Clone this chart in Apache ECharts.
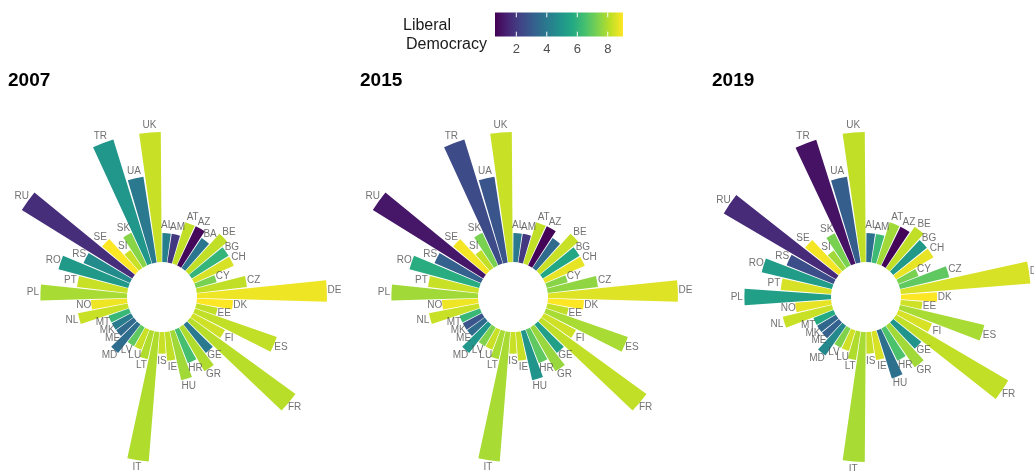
<!DOCTYPE html>
<html><head><meta charset="utf-8">
<script src="https://cdn.jsdelivr.net/npm/echarts@6/dist/echarts.min.js"></script>
<style>html,body{margin:0;padding:0;background:#fff}#c{width:1034px;height:471px}</style>
</head><body><div id="c"></div>
<script>
// ---------------- data ----------------
const countries = ['AL','AM','AT','AZ','BA','BE','BG','CH','CY','CZ','DE','DK','EE','ES','FI','FR','GE','GR','HR','HU','IE','IS','IT','LT','LU','LV','MD','ME','MK','MT','NL','NO','PL','PT','RO','RS','RU','SE','SI','SK','TR','UA','UK'];
const seats = [4,4,6,6,5,7,6,6,3,7,18,5,3,12,5,18,5,7,5,7,4,3,18,4,3,3,5,3,3,3,7,5,12,7,10,7,18,6,3,5,18,12,18];
const libdem2007 = [4.2,2.0,8.2,0.8,3.9,8.2,6.1,8.5,7.3,8.2, 8.8,9.0,8.2,8.2,8.4,8.1,4.0,8.0,6.5,7.8, 8.2,8.3,8.0,8.0,8.3,6.9,3.6,3.5,4.1,6.2, 8.3,8.8,7.9,8.3,5.1,4.6,1.7,9.0,8.3,7.5, 5.0,4.0,8.3];
const libdem2015 = [4.0,2.0,8.2,0.7,3.5,8.3,5.6,8.7,7.5,7.6, 8.6,9.0,8.2,7.9,8.4,8.2,5.3,7.7,6.9,4.9, 8.3,8.3,7.9,7.9,8.3,7.4,5.0,3.5,2.8,6.2, 8.3,8.8,7.8,8.3,5.8,3.2,1.1,8.9,8.2,7.3, 2.5,2.8,8.3];
const libdem2019 = [3.7,6.3,7.8,0.7,null,8.2,5.1,8.7,7.3,6.9, 8.5,9.0,8.4,7.9,8.5,8.2,4.9,7.8,6.6,3.7, 8.5,8.3,7.9,8.0,8.4,7.4,4.5,3.2,3.4,5.7, 8.3,8.7,5.3,8.5,5.2,2.6,1.6,8.9,7.8,7.3, 1.0,3.1,8.2];
const years = ['2007','2015','2019'];
const hiddenLabels = [[],['BA'],[]];
const colorTicks = [2,4,6,8];
const colorMin = 0.6, colorMax = 9.0;

// ---------------- helpers ----------------
const VIRIDIS = ['#440154','#482475','#414487','#355F8D','#2A788E','#21918C','#22A884','#44BF70','#7AD151','#BDDF26','#FDE725'];
function hex2rgb(h){return [parseInt(h.slice(1,3),16),parseInt(h.slice(3,5),16),parseInt(h.slice(5,7),16)];}
function vir(v){
  let t=(v-colorMin)/(colorMax-colorMin); t=Math.max(0,Math.min(1,t));
  const p=t*(VIRIDIS.length-1); const i=Math.min(Math.floor(p),VIRIDIS.length-2); const f=p-i;
  const a=hex2rgb(VIRIDIS[i]), b=hex2rgb(VIRIDIS[i+1]);
  return 'rgb('+a.map((x,k)=>Math.round(x+(b[k]-x)*f)).join(',')+')';
}
const FONT = '"Liberation Sans", Arial, Helvetica, sans-serif';
const R0 = 35, PX = 7.22, RMAX = 20;
const centers = [[162,297],[513,297],[866,297]];
const titleX = [8,360,712];
const LABEL_OFF = 1.05;

const allVals = [libdem2007, libdem2015, libdem2019];
const polar=[], angleAxis=[], radiusAxis=[], series=[], titles=[];
years.forEach((yr,pi)=>{
  const vals = allVals[pi];
  const idx = countries.map((c,i)=>i).filter(i=>vals[i]!==null);
  const cats = idx.map(i=>countries[i]);
  polar.push({center:centers[pi], radius:[R0, R0+RMAX*PX]});
  angleAxis.push({polarIndex:pi,type:'category',data:cats,startAngle:90,clockwise:true,
    axisLine:{show:false},axisTick:{show:false},axisLabel:{show:false},splitLine:{show:false},splitArea:{show:false}});
  radiusAxis.push({polarIndex:pi,type:'value',min:0,max:RMAX,
    axisLine:{show:false},axisTick:{show:false},axisLabel:{show:false},splitLine:{show:false}});
  series.push({type:'bar',coordinateSystem:'polar',polarIndex:pi,barWidth:'90%',silent:true,
    data: idx.map(i=>({value:seats[i], itemStyle:{color:vir(vals[i])}}))});
  series.push({type:'scatter',coordinateSystem:'polar',polarIndex:pi,symbolSize:0,silent:true,
    data: idx.filter(i=>hiddenLabels[pi].indexOf(countries[i])<0).map(i=>({name:countries[i], value:[seats[i]+LABEL_OFF, countries[i]]})),
    label:{show:true,position:'inside',formatter:'{b}',color:'#4d4d4d',fontSize:10,fontFamily:FONT}});
  titles.push({text:yr,left:titleX[pi],top:71,padding:0,textStyle:{fontSize:19,fontWeight:'bold',color:'#000',fontFamily:FONT}});
});

// colour bar
const CB = {x:495, y:12.5, w:128, h:24};
const graphic = [];
graphic.push({type:'rect',shape:{x:CB.x,y:CB.y,width:CB.w,height:CB.h},
  style:{fill:new echarts.graphic.LinearGradient(0,0,1,0, VIRIDIS.map((c,i)=>({offset:i/(VIRIDIS.length-1),color:c})))}});
colorTicks.forEach(t=>{
  const x = CB.x + (t-colorMin)/(colorMax-colorMin)*CB.w;
  graphic.push({type:'line',shape:{x1:x,y1:CB.y,x2:x,y2:CB.y+4.8},style:{stroke:'#fff',lineWidth:1}});
  graphic.push({type:'line',shape:{x1:x,y1:CB.y+CB.h-4.8,x2:x,y2:CB.y+CB.h},style:{stroke:'#fff',lineWidth:1}});
  graphic.push({type:'text',x:x,y:49,style:{text:String(t),fill:'#4d4d4d',font:'13px '+FONT,textAlign:'center',textVerticalAlign:'middle'}});
});
graphic.push({type:'text',x:403,y:26,style:{text:'Liberal',fill:'#1a1a1a',font:'16px '+FONT,textVerticalAlign:'middle'}});
graphic.push({type:'text',x:406,y:45,style:{text:'Democracy',fill:'#1a1a1a',font:'16px '+FONT,textVerticalAlign:'middle'}});

const chart = echarts.init(document.getElementById('c'),null,{renderer:'canvas'});
chart.setOption({animation:false, backgroundColor:'#fff', title:titles, polar, angleAxis, radiusAxis, series, graphic});
</script></body></html>
